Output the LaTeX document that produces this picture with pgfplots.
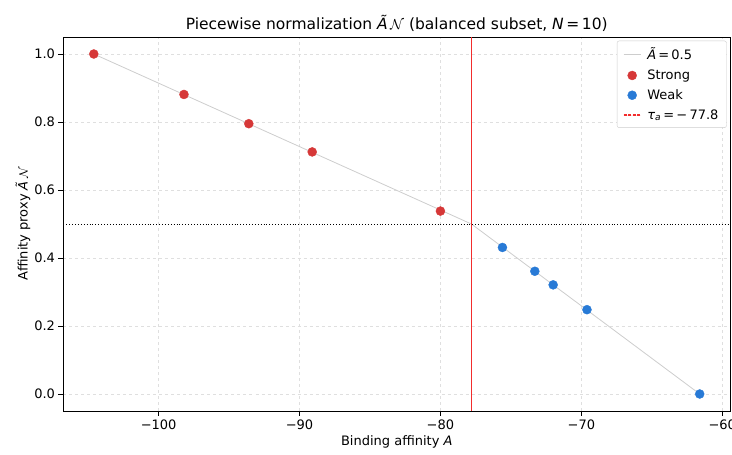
\documentclass[border=0pt]{standalone}
\usepackage{pgfplots}
\pgfplotsset{compat=1.18}
\usepackage{fontspec}
\setmainfont{DejaVu Sans}
\definecolor{strongred}{RGB}{214,56,56}
\definecolor{weakblue}{RGB}{40,122,214}
\definecolor{linegray}{RGB}{205,205,205}
\definecolor{taured}{RGB}{242,45,45}
\begin{document}
\begin{tikzpicture}
\begin{axis}[
  at={(0,0)}, anchor=south west,
  scale only axis, width=666.5pt, height=374pt,
  xmin=-106.75, xmax=-59.45, ymin=-0.05, ymax=1.05,
  xtick={-100,-90,-80,-70,-60},
  xticklabels={−100,−90,−80,−70,−60},
  ytick={0,0.2,0.4,0.6,0.8,1.0},
  yticklabels={0.0,0.2,0.4,0.6,0.8,1.0},
  tick style={black, line width=0.7pt},
  tick align=outside, major tick length=5pt,
  xtick pos=bottom, ytick pos=left,
  grid=major,
  grid style={dashed, gray!25, line width=0.6pt},
  axis line style={black, line width=0.7pt},
  title={Piecewise normalization \textit{Ã}\,$\mathcal{N}$ (balanced subset, \textit{N}\,=\,10)},
  title style={font=\fontsize{15.5}{17}\selectfont, yshift=-4pt},
  xlabel={Binding affinity \textit{A}},
  ylabel={Affinity proxy \textit{Ã}\,$\mathcal{N}$},
  xlabel style={font=\fontsize{13}{15}\selectfont, yshift=1pt},
  ylabel style={font=\fontsize{13}{15}\selectfont, yshift=-3pt},
  tick label style={font=\fontsize{13}{15}\selectfont},
  legend style={at={(0.995,0.99)}, anchor=north east, draw=gray!40, rounded corners=2pt,
    font=\fontsize{13}{15}\selectfont, row sep=4.5pt, inner xsep=6pt, inner ysep=5pt,
    /tikz/every odd column/.append style={column sep=4pt}},
  legend cell align=left,
]
\addplot[color=linegray, line width=0.8pt] coordinates {
(-104.6,1.0) (-77.8,0.5) (-61.6,0.0)};
\addlegendentry{\textit{Ã}\,=\,0.5}
\addplot[only marks, mark=*, mark size=4.5pt, color=strongred, mark options={draw=strongred, fill=strongred}] coordinates {
(-104.6,1.0) (-98.2,0.881) (-93.6,0.795) (-89.1,0.712) (-80.0,0.538)};
\addlegendentry{Strong}
\addplot[only marks, mark=*, mark size=4.5pt, color=weakblue, mark options={draw=weakblue, fill=weakblue}] coordinates {
(-75.6,0.431) (-73.3,0.361) (-72.0,0.321) (-69.6,0.248) (-61.6,0.0)};
\addlegendentry{Weak}
\addplot[fill=taured, draw=none,
  legend image code/.code={\draw[taured, dash pattern=on 3pt off 1.5pt, line width=1.1pt] (0cm,0cm) -- (0.6cm,0cm);}]
  coordinates {(-77.835,-0.05) (-77.765,-0.05) (-77.765,1.05) (-77.835,1.05)} -- cycle;
\addlegendentry{\textit{τ}\textsubscript{\textit{a}}\,=\,−\,77.8}
\addplot[color=black, dotted, line width=0.9pt, forget plot] coordinates {(-106.75,0.5) (-59.45,0.5)};
\end{axis}
\pgfresetboundingbox
\path[use as bounding box] (-63.5pt,-44pt) rectangle (668.5pt,411pt);
\end{tikzpicture}
\end{document}
